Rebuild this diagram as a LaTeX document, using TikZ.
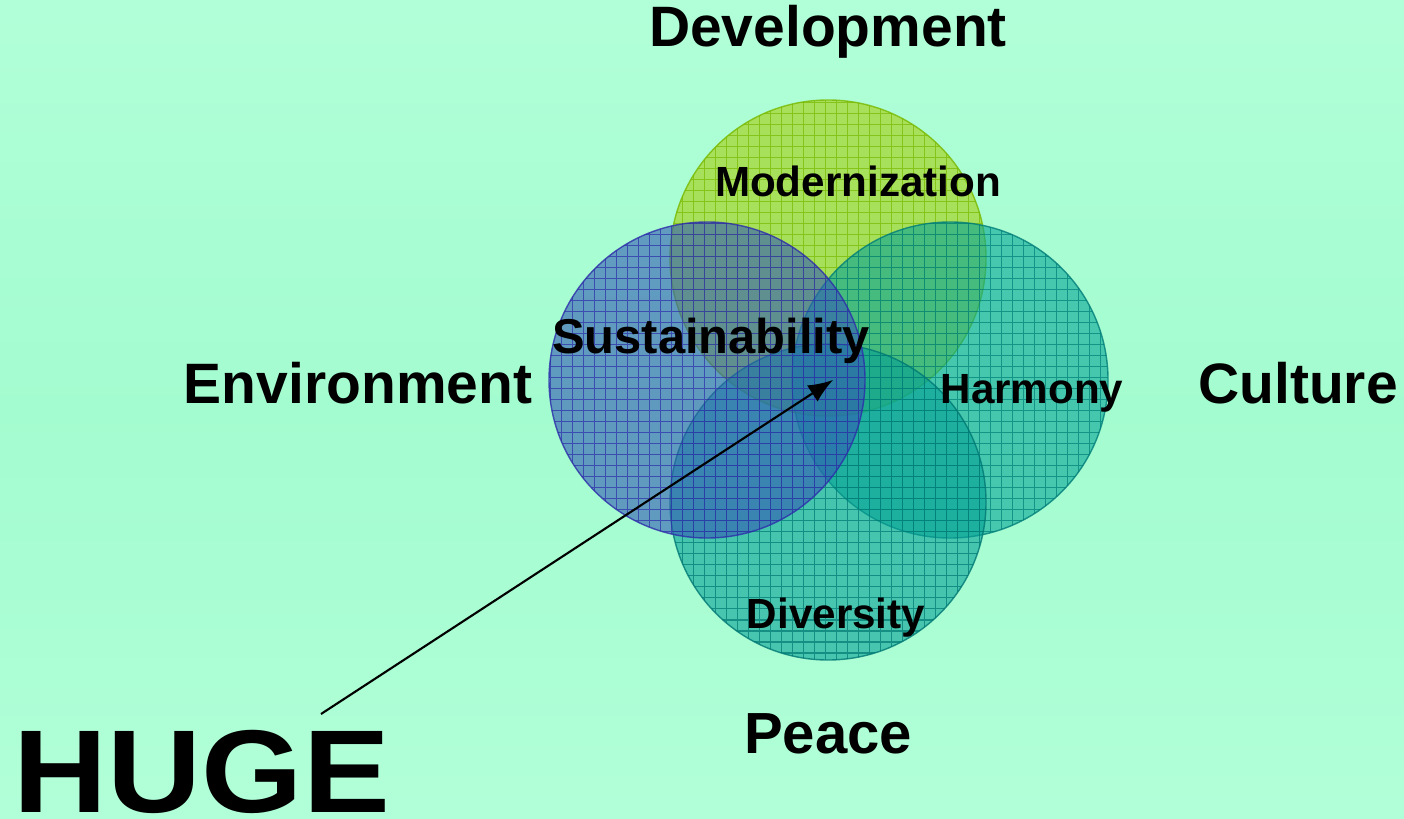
\documentclass[tikz,border=0pt]{standalone}
\usepackage{fontspec}
\setmainfont{Liberation Sans}
\usetikzlibrary{arrows.meta}

\definecolor{mintbg}{RGB}{177,255,216}
\definecolor{mintmid}{RGB}{163,252,207}
\definecolor{devfill}{RGB}{165,205,10}
\definecolor{devline}{RGB}{120,185,0}
\definecolor{envfill}{RGB}{50,90,180}
\definecolor{envline}{RGB}{45,45,170}
\definecolor{culfill}{RGB}{5,165,150}
\definecolor{culline}{RGB}{0,125,120}
\definecolor{peafill}{RGB}{5,160,150}
\definecolor{pealine}{RGB}{0,120,115}

\begin{document}
\begin{tikzpicture}[x=0.01cm,
            y=0.01cm,
            font=\bfseries,
            bigword/.style={font=\bfseries\fontsize{16.2}{19}\selectfont, inner sep=0pt},
            smallword/.style={font=\bfseries\fontsize{12}{14}\selectfont, inner sep=0pt},
            pointer/.style={-{Latex[length=7pt,width=5.5pt]}, line width=0.6pt}]

        \useasboundingbox (0,0) rectangle (1404,818);
        \shade[top color=mintbg, bottom color=mintbg, middle color=mintmid]
            (0,0) rectangle (1404,818);

        \coordinate (dev) at (828,560);
        \coordinate (cul) at (950,438);
        \coordinate (pea) at (828,316);
        \coordinate (env) at (707,438);

        \foreach \c in {dev,cul,pea,env} {
            \begin{scope}
                \fill[\c fill, fill opacity=0.6] (\c) circle (158);
                \clip (\c) circle (158);
                \draw[\c line, opacity=0.7, line width=0.35pt, step=0.11cm]
                    (0,0) grid (1404,818);
            \end{scope}
            \draw[\c line, opacity=0.8, line width=0.4pt] (\c) circle (158);
        }

        \node[bigword]   (development)    at (828,786)  {Development};
        \node[bigword]   (environment)    at (358,435)  {Environment};
        \node[bigword]   (culture)        at (1298,435) {Culture};
        \node[bigword, font=\bfseries\fontsize{16.5}{19}\selectfont]
                         (peace)          at (828,84)   {Peace};
        \node[smallword] (modernization)  at (858,637)  {Modernization};
        \node[smallword] (harmony)        at (1032,425) {Harmony};
        \node[smallword] (diversity)      at (836,200)  {Diversity};
        \node[font=\bfseries\fontsize{13.9}{16}\selectfont, inner sep=0pt]
                         (sustainability) at (711,477)  {Sustainability};
        \node[font=\bfseries\fontsize{33.5}{38}\selectfont, inner sep=0pt, anchor=base west,
              xscale=1.105, transform shape]
                         (huge)           at (13,6)     {HUGE};

        \coordinate (tail) at (321,104);
        \coordinate (tip)  at (833,438);
        \draw[pointer] (tail) -- (tip);

    \end{tikzpicture}
\end{document}
